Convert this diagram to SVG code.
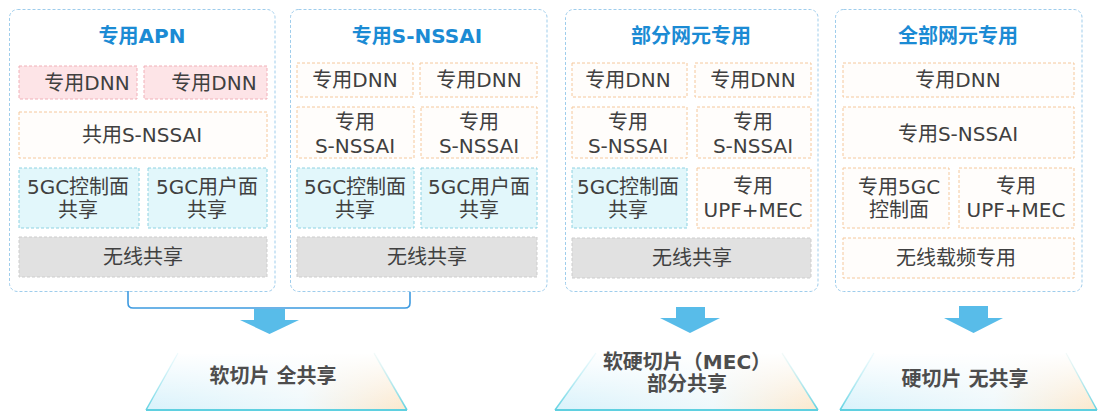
<svg xmlns="http://www.w3.org/2000/svg" width="1099" height="417" viewBox="0 0 1099 417">
<defs>
<linearGradient id="tfill" x1="0" y1="0" x2="1" y2="0">
<stop offset="0" stop-color="#d8f2fb"/>
<stop offset="0.6" stop-color="#eff8fb"/>
<stop offset="1" stop-color="#fde8cc"/>
</linearGradient>
<linearGradient id="tfade" x1="0" y1="0" x2="0" y2="1">
<stop offset="0" stop-color="#ffffff" stop-opacity="1"/>
<stop offset="1" stop-color="#ffffff" stop-opacity="0"/>
</linearGradient>
<linearGradient id="tstroke" x1="0" y1="0" x2="0" y2="1">
<stop offset="0" stop-color="#bdeef5" stop-opacity="0.15"/>
<stop offset="1" stop-color="#5fd2e2"/>
</linearGradient>
</defs>
<style>
.outer{fill:#ffffff;stroke:#9fcdec;stroke-width:1;stroke-dasharray:3 2}
.pink{fill:#fde4e7;stroke:#f1b0b8;stroke-width:1;stroke-dasharray:3 2}
.org{fill:#fffdfb;stroke:#f5c89c;stroke-width:1;stroke-dasharray:3 2}
.cyan{fill:#e2f7fb;stroke:#8ed2e2;stroke-width:1;stroke-dasharray:3 2}
.gray{fill:#e1e1e1;stroke:#cdcdcd;stroke-width:1;stroke-dasharray:3 2}
.t{font-family:"DejaVu Sans","Noto Sans CJK SC",sans-serif;font-size:20px;fill:#404040;text-anchor:middle;dominant-baseline:central}
.title{font-family:"DejaVu Sans","Noto Sans CJK SC",sans-serif;font-size:20px;font-weight:bold;fill:#1b8bd4;text-anchor:middle;dominant-baseline:central}
.res{font-family:"DejaVu Sans","Noto Sans CJK SC",sans-serif;font-size:20px;font-weight:bold;fill:#4d4d4d;text-anchor:middle;dominant-baseline:central}
.arrow{fill:#58bce9}
.bracket{fill:none;stroke:#3d9ae0;stroke-width:1.6}
.trap{fill:url(#tfill)}
.trapfade{fill:url(#tfade)}
.trapedge{fill:none;stroke:url(#tstroke);stroke-width:1.5}
.trapbase{stroke:#5fd0e0;stroke-width:2}
</style>

<g id="box-apn">
<rect class="outer" x="9.5" y="9.5" width="265.5" height="282" rx="8"/>
<text class="title" x="142" y="36">专用APN</text>
<rect class="pink" x="19" y="66" width="118" height="33"/>
<text class="t" x="87" y="82.5">专用DNN</text>
<rect class="pink" x="144" y="66" width="123" height="33"/>
<text class="t" x="214" y="82.5">专用DNN</text>
<rect class="org" x="19" y="112" width="248" height="46"/>
<text class="t" x="142" y="135">共用S-NSSAI</text>
<rect class="cyan" x="19" y="168" width="120" height="60"/>
<text class="t" x="78" y="187">5GC控制面</text>
<text class="t" x="78" y="210">共享</text>
<rect class="cyan" x="148" y="168" width="119" height="60"/>
<text class="t" x="207" y="187">5GC用户面</text>
<text class="t" x="207" y="210">共享</text>
<rect class="gray" x="19" y="237" width="248" height="40"/>
<text class="t" x="143" y="257">无线共享</text>
</g>

<g id="box-snssai">
<rect class="outer" x="290.5" y="9.5" width="256.5" height="282" rx="8"/>
<text class="title" x="417" y="36">专用S-NSSAI</text>
<rect class="org" x="297" y="63" width="116" height="34"/>
<text class="t" x="355" y="80">专用DNN</text>
<rect class="org" x="420" y="63" width="117" height="34"/>
<text class="t" x="479" y="80">专用DNN</text>
<rect class="org" x="297" y="107" width="117" height="51"/>
<text class="t" x="355" y="122">专用</text>
<text class="t" x="355" y="146">S-NSSAI</text>
<rect class="org" x="421" y="107" width="116" height="51"/>
<text class="t" x="479" y="122">专用</text>
<text class="t" x="479" y="146">S-NSSAI</text>
<rect class="cyan" x="297" y="168" width="117" height="60"/>
<text class="t" x="355" y="187">5GC控制面</text>
<text class="t" x="355" y="210">共享</text>
<rect class="cyan" x="421" y="168" width="116" height="60"/>
<text class="t" x="479" y="187">5GC用户面</text>
<text class="t" x="479" y="210">共享</text>
<rect class="gray" x="297" y="237" width="240" height="40"/>
<text class="t" x="427" y="257">无线共享</text>
</g>

<g id="box-partial">
<rect class="outer" x="565.5" y="9.5" width="252.5" height="282" rx="8"/>
<text class="title" x="691" y="36">部分网元专用</text>
<rect class="org" x="572" y="63" width="115" height="34"/>
<text class="t" x="628" y="80">专用DNN</text>
<rect class="org" x="695" y="63" width="116" height="34"/>
<text class="t" x="753" y="80">专用DNN</text>
<rect class="org" x="572" y="107" width="115" height="51"/>
<text class="t" x="628" y="122">专用</text>
<text class="t" x="628" y="146">S-NSSAI</text>
<rect class="org" x="697" y="107" width="114" height="51"/>
<text class="t" x="753" y="122">专用</text>
<text class="t" x="753" y="146">S-NSSAI</text>
<rect class="cyan" x="572" y="168" width="115" height="60"/>
<text class="t" x="628" y="187">5GC控制面</text>
<text class="t" x="628" y="210">共享</text>
<rect class="org" x="697" y="168" width="114" height="60"/>
<text class="t" x="753" y="186">专用</text>
<text class="t" x="753" y="210">UPF+MEC</text>
<rect class="gray" x="572" y="238" width="239" height="40"/>
<text class="t" x="692" y="258">无线共享</text>
</g>

<g id="box-full">
<rect class="outer" x="835.5" y="9.5" width="246.5" height="282" rx="8"/>
<text class="title" x="958" y="36">全部网元专用</text>
<rect class="org" x="843" y="63" width="231" height="34"/>
<text class="t" x="958" y="80">专用DNN</text>
<rect class="org" x="843" y="107" width="231" height="51"/>
<text class="t" x="958" y="134">专用S-NSSAI</text>
<rect class="org" x="843" y="168" width="106" height="60"/>
<text class="t" x="899" y="187">专用5GC</text>
<text class="t" x="899" y="210">控制面</text>
<rect class="org" x="959" y="168" width="115" height="60"/>
<text class="t" x="1016" y="186">专用</text>
<text class="t" x="1016" y="210">UPF+MEC</text>
<rect class="org" x="843" y="238" width="231" height="40"/>
<text class="t" x="956" y="258">无线载频专用</text>
</g>

<g id="connectors">
<path class="bracket" d="M128,291 V303 Q128,308 133,308 H405 Q410,308 410,303 V292"/>
<path class="arrow" d="M254,309 H285 V320 H299 L269.5,334 L240,320 H254 Z"/>
<path class="arrow" d="M676,307 H705 V318 H720 L690,333 L660,318 H676 Z"/>
<path class="arrow" d="M959,306 H988 V318 H1003 L973.5,333 L944,318 H959 Z"/>
</g>

<g id="result-soft">
<polygon class="trap" points="178,353 374,353 407,410 146,410"/>
<polygon class="trapfade" points="178,353 374,353 407,410 146,410"/>
<polyline class="trapedge" points="178,353 146,410"/>
<polyline class="trapedge" points="374,353 407,410"/>
<line class="trapbase" x1="146" y1="410" x2="407" y2="410"/>
<text class="res" x="273" y="376">软切片 全共享</text>
</g>

<g id="result-mixed">
<polygon class="trap" points="596,353 782,353 818,410 555,410"/>
<polygon class="trapfade" points="596,353 782,353 818,410 555,410"/>
<polyline class="trapedge" points="596,353 555,410"/>
<polyline class="trapedge" points="782,353 818,410"/>
<line class="trapbase" x1="555" y1="410" x2="818" y2="410"/>
<text class="res" x="687" y="362">软硬切片（MEC）</text>
<text class="res" x="687" y="384">部分共享</text>
</g>

<g id="result-hard">
<polygon class="trap" points="874,353 1066,353 1097,410 840,410"/>
<polygon class="trapfade" points="874,353 1066,353 1097,410 840,410"/>
<polyline class="trapedge" points="874,353 840,410"/>
<polyline class="trapedge" points="1066,353 1097,410"/>
<line class="trapbase" x1="840" y1="410" x2="1097" y2="410"/>
<text class="res" x="965" y="379">硬切片 无共享</text>
</g>
</svg>
